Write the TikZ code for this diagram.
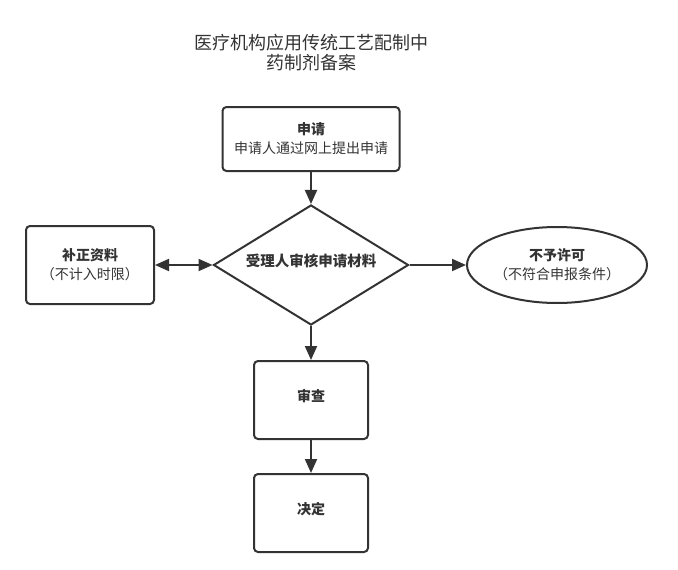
\documentclass[tikz,border=0pt]{standalone}
\usepackage{fontspec}
\setmainfont{Noto Sans CJK SC}
\usetikzlibrary{shapes.geometric,arrows.meta}
\definecolor{ln}{HTML}{333333}
\newcommand{\up}[1]{\raisebox{10pt}{#1}}
\begin{document}
\begin{tikzpicture}[x=1pt,y=-1pt,
  base/.style={draw=ln, line width=2pt, fill=white, align=center, text=ln, inner sep=0pt, font=\fontsize{14}{19}\selectfont},
  box/.style={base, rounded corners=4pt},
  arr/.style={draw=ln, line width=2pt, -{Triangle[length=14pt,width=12pt]}},
  darr/.style={draw=ln, line width=2pt, {Triangle[length=14pt,width=12pt]}-{Triangle[length=14pt,width=12pt]}}]
\useasboundingbox (0,0) rectangle (678,570);
\node[text=ln, align=center, font=\fontsize{18}{20}\selectfont] (title) at (311,53) {医疗机构应用传统工艺配制中\\药制剂备案};
\node[box, minimum width=177pt, minimum height=64pt] (apply) at (311,139) {\textbf{申请}\\申请人通过网上提出申请};
\node[base, shape=diamond, aspect=1.625, minimum width=195pt, minimum height=120pt, font=\fontsize{14.5}{19}\selectfont] (check) at (311,265) {\up{\textbf{受理人审核申请材料}}};
\node[box, minimum width=128pt, minimum height=78pt] (supp) at (90,265) {\textbf{补正资料}\\（不计入时限）};
\node[base, shape=ellipse, minimum width=180pt, minimum height=76pt] (reject) at (557,265) {\textbf{不予许可}\\（不符合申报条件）};
\node[box, minimum width=114pt, minimum height=78pt] (review) at (311,400) {\up{\textbf{审查}}};
\node[box, minimum width=114pt, minimum height=78pt] (decide) at (311,513) {\up{\textbf{决定}}};
\draw[arr] (apply) -- (check);
\draw[arr] (check) -- (review);
\draw[arr] (review) -- (decide);
\draw[arr] (check.east) -- (reject.west);
\draw[darr] (supp.east) -- (check.west);
\end{tikzpicture}
\end{document}
